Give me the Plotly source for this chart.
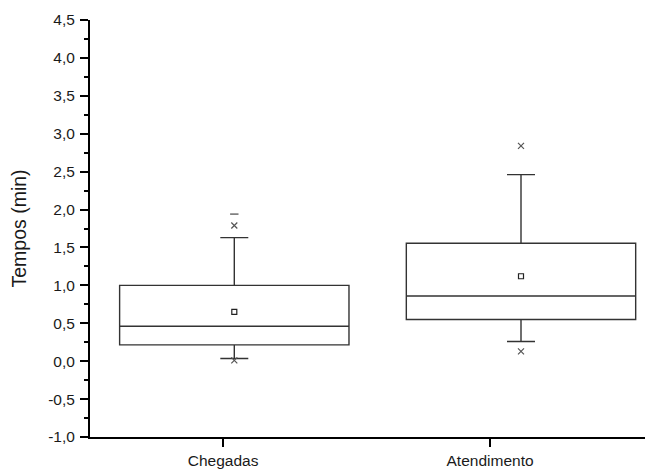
import plotly.graph_objects as go

# ---- data ----
categories = ["Chegadas", "Atendimento"]
box_pos = [1, 2]
q1 = [0.215, 0.55]
median = [0.46, 0.86]
q3 = [1.00, 1.555]
lower_whisker = [0.035, 0.26]
upper_whisker = [1.63, 2.46]
mean = [0.65, 1.12]
p99 = [1.79, 2.84]      # x markers (top)
p1 = [0.01, 0.13]       # x markers (bottom)
maxima = [1.94, None]   # dash markers
tick_pos = [0.961, 1.892]

y_tick_vals = [-1.0, -0.5, 0.0, 0.5, 1.0, 1.5, 2.0, 2.5, 3.0, 3.5, 4.0, 4.5]
y_tick_labels = ["-1,0", "-0,5", "0,0", "0,5", "1,0", "1,5", "2,0", "2,5",
                 "3,0", "3,5", "4,0", "4,5"]

FONT = "Liberation Sans, Arial, sans-serif"
LINE = "#333333"

fig = go.Figure()

fig.add_trace(go.Box(
    x=box_pos, q1=q1, median=median, q3=q3,
    lowerfence=lower_whisker, upperfence=upper_whisker,
    width=0.8, whiskerwidth=0.122,
    fillcolor="rgba(255,255,255,0)",
    line=dict(color=LINE, width=1.4),
    boxpoints=False, showlegend=False, hoverinfo="skip",
))

fig.add_trace(go.Scatter(
    x=box_pos, y=mean, mode="markers",
    marker=dict(symbol="square-open", size=5, color="#222222",
                line=dict(width=1.2)),
    showlegend=False,
))

fig.add_trace(go.Scatter(
    x=box_pos + box_pos, y=p99 + p1, mode="markers",
    marker=dict(symbol="x-thin-open", size=6, color="#555555",
                line=dict(width=1.2, color="#555555")),
    showlegend=False,
))

fig.add_trace(go.Scatter(
    x=box_pos, y=maxima, mode="markers",
    marker=dict(symbol="line-ew-open", size=6, color="#555555",
                line=dict(width=1.3, color="#555555")),
    showlegend=False,
))

# the page body has an 8px margin, so the figure is sized/placed to compensate
fig.update_layout(
    width=645, height=461,
    margin=dict(l=82, r=0, t=12, b=32),
    paper_bgcolor="white", plot_bgcolor="white",
    font=dict(family=FONT, size=15.5, color="#1a1a1a"),
    showlegend=False,
)

fig.update_xaxes(
    range=[0.4967, 2.4604],
    tickvals=tick_pos, ticktext=categories,
    showline=True, linecolor="black", linewidth=2,
    ticks="outside", ticklen=8, tickwidth=2, tickcolor="black",
    showgrid=False, zeroline=False,
    tickfont=dict(family=FONT, size=15.5, color="#1a1a1a"),
)

fig.update_yaxes(
    range=[-1.0, 4.5],
    tickvals=y_tick_vals, ticktext=y_tick_labels,
    showline=True, linecolor="black", linewidth=2,
    ticks="outside", ticklen=8, tickwidth=2, tickcolor="black",
    ticklabelstandoff=2,
    minor=dict(dtick=0.25, tick0=-1.0, ticks="outside", ticklen=4,
               tickwidth=2, tickcolor="black", showgrid=False),
    showgrid=False, zeroline=False,
    tickfont=dict(family=FONT, size=15.5, color="#1a1a1a"),
    title=dict(text="Tempos (min)", font=dict(family=FONT, size=19.5,
                                                color="#1a1a1a"),
               standoff=22),
)

fig.write_html("out.html")
